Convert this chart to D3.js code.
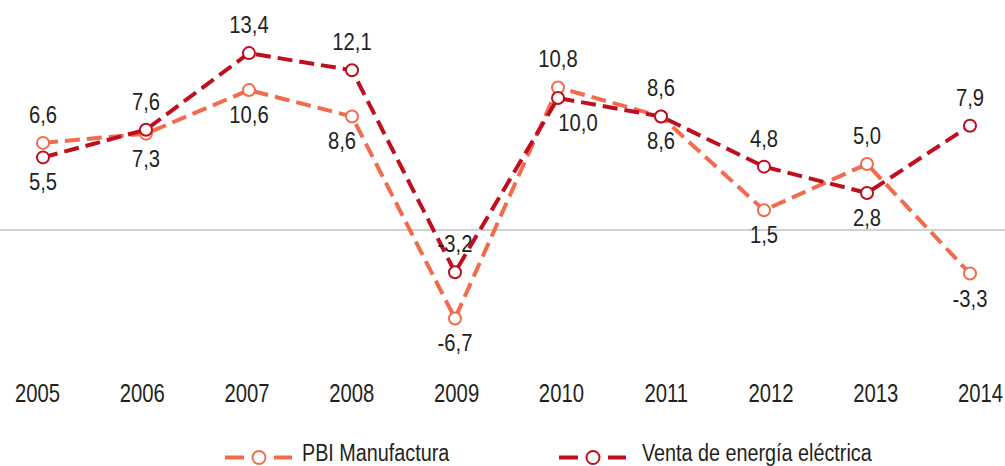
<!DOCTYPE html>
<html>
<head>
<meta charset="utf-8">
<script src="https://cdn.jsdelivr.net/npm/d3@7"></script>
<style>
  body { margin: 0; background: #fff; }
  svg text { font-family: "Liberation Sans", Arial, sans-serif; fill: #231f20; }
</style>
</head>
<body>
<svg id="chart" width="1005" height="466"></svg>
<script>
// data
var years = ["2005","2006","2007","2008","2009","2010","2011","2012","2013","2014"];
var pbiManufactura = [6.6, 7.3, 10.6, 8.6, -6.7, 10.8, 8.6, 1.5, 5.0, -3.3];
var ventaEnergia   = [5.5, 7.6, 13.4, 12.1, -3.2, 10.0, 8.6, 4.8, 2.8, 7.9];
// label placement: 1 = above the point, -1 = below
var pbiLabelPos   = [1, -1, -1, -1, -1, 1, -1, -1, 1, -1];
var ventaLabelPos = [-1, 1, 1, 1, 1, -1, 1, 1, -1, 1];

// small horizontal nudges for crowded labels (layout only)
var labelNudge = { "PBI Manufactura": { "2008": -10 }, "Venta de energía eléctrica": { "2010": 20 } };

var series = [
  { name: "PBI Manufactura", values: pbiManufactura, pos: pbiLabelPos, color: "#f26b4d" },
  { name: "Venta de energía eléctrica", values: ventaEnergia, pos: ventaLabelPos, color: "#c10e1e" }
];

// the original uses a condensed face; squeeze a regular one horizontally
var squeeze = 0.88;

var svg = d3.select("#chart");

var x = d3.scalePoint().domain(years).range([43, 970]);
var xLabels = d3.scalePoint().domain(years).range([37, 980]);
var y = d3.scaleLinear().domain([-10, 15]).range([362, 32]);

// zero line
svg.append("line")
   .attr("x1", 0).attr("x2", 1005)
   .attr("y1", y(0)).attr("y2", y(0))
   .attr("stroke", "#a3a3a3")
   .attr("stroke-width", 1.2);

// x axis labels
var xAxis = d3.axisBottom(xLabels).tickSize(0).tickPadding(0);
var gx = svg.append("g").attr("transform", "translate(0,402)").call(xAxis);
gx.select(".domain").remove();
gx.selectAll("text")
  .attr("y", 0)
  .attr("dy", 0)
  .attr("transform", "scale(0.78,1)")
  .style("font-size", "26px");

var line = d3.line()
  .x(function (d, i) { return x(years[i]); })
  .y(function (d) { return y(d); });

series.forEach(function (s) {
  var g = svg.append("g");
  g.append("path")
   .datum(s.values)
   .attr("d", line)
   .attr("fill", "none")
   .attr("stroke", s.color)
   .attr("stroke-width", 4)
   .attr("stroke-dasharray", "15,7");

  g.selectAll("circle")
   .data(s.values)
   .enter().append("circle")
   .attr("cx", function (d, i) { return x(years[i]); })
   .attr("cy", function (d) { return y(d); })
   .attr("r", 6)
   .attr("fill", "#fff")
   .attr("stroke", s.color)
   .attr("stroke-width", 2);

  g.selectAll("text.lbl")
   .data(s.values)
   .enter().append("text")
   .attr("class", "lbl")
   .attr("text-anchor", "middle")
   .attr("transform", function (d, i) {
     var nudge = labelNudge[s.name][years[i]] || 0;
     var px = x(years[i]) + nudge;
     var py = y(d) + (s.pos[i] > 0 ? -20 : 33);
     return "translate(" + px + "," + py + ") scale(" + squeeze + ",1)";
   })
   .style("font-size", "23px")
   .text(function (d) { return d.toFixed(1).replace(".", ","); });
});

// legend: dash, open circle, dash, then the name
var legendX = [225, 559];
series.forEach(function (s, i) {
  var lg = svg.append("g").attr("transform", "translate(" + legendX[i] + ",457.5)");
  lg.append("line")
    .attr("x1", 0).attr("x2", 19).attr("y1", 0).attr("y2", 0)
    .attr("stroke", s.color).attr("stroke-width", 4);
  lg.append("line")
    .attr("x1", 49).attr("x2", 67).attr("y1", 0).attr("y2", 0)
    .attr("stroke", s.color).attr("stroke-width", 4);
  lg.append("circle")
    .attr("cx", 34).attr("cy", 0).attr("r", 6.5)
    .attr("fill", "#fff").attr("stroke", s.color).attr("stroke-width", 2);
  lg.append("text")
    .attr("transform", "translate(" + (i === 0 ? 77 : 83) + ",3.5) scale(0.86,1)")
    .style("font-size", "23px")
    .text(s.name);
});
</script>
</body>
</html>
